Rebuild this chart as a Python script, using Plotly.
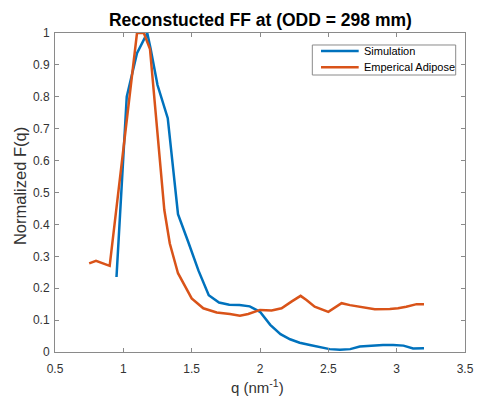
import plotly.graph_objects as go

sim_q = [0.95, 1.025, 1.10, 1.175, 1.20, 1.25, 1.325, 1.40, 1.475, 1.55, 1.625, 1.70, 1.775,
         1.85, 1.925, 2.0, 2.075, 2.15, 2.22, 2.29, 2.365, 2.44, 2.51, 2.585, 2.66, 2.73,
         2.80, 2.90, 2.975, 3.05, 3.12, 3.20]
sim_f = [0.235, 0.80, 0.937, 1.0, 0.95, 0.837, 0.733, 0.432, 0.345, 0.255, 0.178, 0.155, 0.148,
         0.147, 0.143, 0.126, 0.085, 0.056, 0.040, 0.029, 0.022, 0.015, 0.009, 0.007, 0.009, 0.017,
         0.020, 0.022, 0.022, 0.020, 0.011, 0.012]

adi_q = [0.75, 0.80, 0.90, 1.10, 1.15, 1.195, 1.30, 1.34, 1.40, 1.50, 1.585, 1.683, 1.78,
         1.853, 1.914, 2.0, 2.085, 2.158, 2.23, 2.297, 2.34, 2.40, 2.50, 2.597, 2.658, 2.73,
         2.84, 2.95, 3.01, 3.07, 3.146, 3.20]
adi_f = [0.278, 0.286, 0.27, 1.0, 1.0, 0.95, 0.445, 0.34, 0.247, 0.168, 0.137, 0.124, 0.119,
         0.114, 0.119, 0.132, 0.130, 0.137, 0.158, 0.176, 0.163, 0.142, 0.126, 0.153, 0.147, 0.142,
         0.134, 0.135, 0.137, 0.142, 0.150, 0.150]

series_names = ["Simulation", "Emperical Adipose"]
series_colors = ["#0072BD", "#D95319"]

x_ticks = [0.5, 1, 1.5, 2, 2.5, 3, 3.5]
y_ticks = [0, 0.1, 0.2, 0.3, 0.4, 0.5, 0.6, 0.7, 0.8, 0.9, 1]

FONT = "Liberation Sans, Arial"
AXC = "#8a8a8a"

fig = go.Figure()
for q, f, nm, col in [(sim_q, sim_f, series_names[0], series_colors[0]),
                      (adi_q, adi_f, series_names[1], series_colors[1])]:
    fig.add_trace(go.Scatter(x=q, y=f, mode="lines", name=nm,
                             line=dict(color=col, width=2.5), showlegend=False))

axis_common = dict(showgrid=False, zeroline=False, showline=True, linecolor=AXC,
                   linewidth=1, mirror="ticks", ticks="inside", ticklen=4, tickcolor=AXC,
                   automargin=False,
                   tickfont=dict(family=FONT, size=12, color="#333333"))

# manual legend (paper coordinates of plot area)
lx0, lx1, ly0, ly1 = 0.6276, 0.9773, 0.8683, 0.9624
fig.add_shape(type="rect", xref="paper", yref="paper", x0=lx0, x1=lx1, y0=ly0, y1=ly1,
              line=dict(color=AXC, width=1), fillcolor="white", layer="above")
row_y = [0.9436, 0.8925]
for i in range(2):
    fig.add_shape(type="line", xref="paper", yref="paper", x0=0.6488, x1=0.7407,
                  y0=row_y[i], y1=row_y[i], line=dict(color=series_colors[i], width=2.5),
                  layer="above")
    fig.add_annotation(xref="paper", yref="paper", x=0.7480, y=row_y[i], text=series_names[i],
                       showarrow=False, xanchor="left", yanchor="middle",
                       font=dict(family=FONT, size=11, color="black"))

# axis titles
fig.add_annotation(xref="paper", yref="paper", x=0.495, y=0, yshift=-34,
                   text="q (nm<sup>-1</sup>)", showarrow=False, xanchor="center",
                   yanchor="middle", font=dict(family=FONT, size=15, color="#333333"))
fig.add_annotation(xref="paper", yref="paper", x=0, xshift=-35, y=0.52,
                   text="Normalized F(q)", showarrow=False, textangle=-90,
                   xanchor="center", yanchor="middle",
                   font=dict(family=FONT, size=16.5, color="#333333"))

fig.update_layout(
    width=477, height=405,
    margin=dict(l=55, r=12, t=33, b=53, autoexpand=False),
    paper_bgcolor="white", plot_bgcolor="white",
    title=dict(text="<b>Reconstucted FF at (ODD = 298 mm)</b>", x=0.501, xref="paper",
               xanchor="center", y=1 - 20 / 405, yanchor="middle", automargin=False,
               font=dict(family=FONT, size=17.5, color="black")),
    xaxis=dict(range=[0.5, 3.5], tickvals=x_ticks, ticktext=[str(v) for v in x_ticks],
               ticklabelstandoff=6, **axis_common),
    yaxis=dict(range=[0, 1], tickvals=y_ticks, ticktext=[("%g" % v) for v in y_ticks],
               ticklabelstandoff=2, **axis_common),
    showlegend=False,
)

fig.write_html("out.html", config={"displayModeBar": False},
               post_script="document.body.style.margin='0';document.body.style.overflow='hidden';")
